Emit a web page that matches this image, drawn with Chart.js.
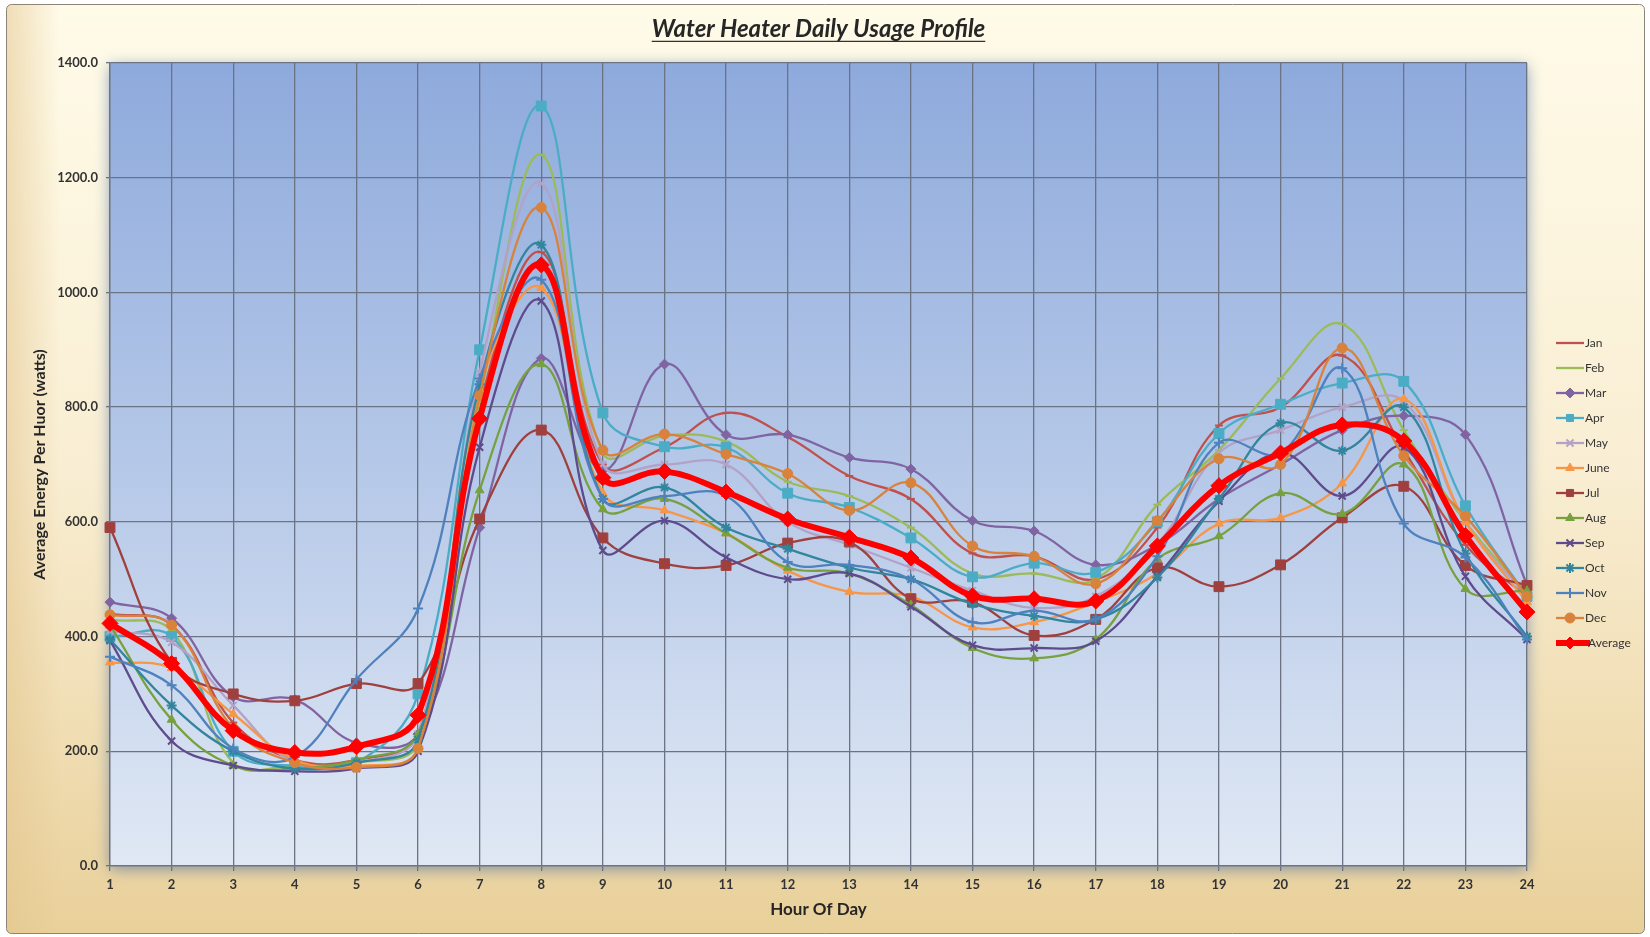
<!DOCTYPE html>
<html>
<head>
<meta charset="utf-8">
<title>Water Heater Daily Usage Profile</title>
<script src="https://cdn.jsdelivr.net/npm/chart.js@4.4.1/dist/chart.umd.min.js"></script>
<style>
  html, body { margin: 0; padding: 0; background: #ffffff; }
  #wrap { width: 1650px; height: 937px; }
</style>
</head>
<body>
<div id="wrap"><canvas id="usage" width="1650" height="937"></canvas></div>
<script>
// Hours of the day (x axis)
const hours = ['1', '2', '3', '4', '5', '6', '7', '8', '9', '10', '11', '12',
               '13', '14', '15', '16', '17', '18', '19', '20', '21', '22', '23', '24'];

// Average energy per hour (watts)
const jan  = [440, 420, 250, 185, 185, 230, 800, 1070, 700, 730, 790, 748, 680, 640, 545, 540, 500, 590, 768, 800, 890, 725, 560, 470];
const feb  = [430, 410, 180, 175, 180, 215, 810, 1240, 720, 750, 740, 670, 645, 590, 510, 510, 500, 630, 725, 850, 945, 760, 600, 475];
const mar  = [460, 432, 295, 290, 215, 230, 590, 885, 690, 875, 752, 752, 712, 692, 602, 584, 525, 560, 640, 700, 760, 785, 752, 490];
const apr  = [400, 400, 200, 175, 180, 300, 900, 1325, 790, 731, 730, 650, 625, 572, 504, 528, 512, 600, 754, 805, 842, 845, 628, 470];
const may  = [410, 390, 280, 180, 180, 230, 860, 1190, 700, 700, 700, 600, 560, 520, 480, 450, 470, 560, 720, 760, 800, 810, 600, 470];
const june = [355, 345, 265, 185, 175, 205, 830, 1008, 650, 620, 580, 515, 478, 470, 416, 425, 460, 510, 597, 607, 667, 814, 600, 460];
const jul  = [590, 355, 300, 288, 318, 318, 605, 760, 572, 527, 524, 563, 565, 466, 460, 402, 430, 520, 487, 525, 607, 662, 524, 489];
const aug  = [420, 255, 175, 170, 185, 230, 655, 875, 622, 640, 580, 520, 510, 455, 380, 362, 395, 535, 575, 650, 614, 700, 483, 480];
const sep  = [393, 218, 175, 165, 170, 200, 730, 985, 550, 602, 538, 500, 510, 452, 385, 380, 392, 505, 636, 720, 645, 730, 505, 395];
const oct  = [395, 280, 200, 170, 180, 220, 840, 1083, 640, 660, 590, 553, 520, 500, 457, 436, 430, 503, 640, 772, 724, 800, 545, 400];
const nov  = [365, 315, 205, 190, 325, 449, 850, 1022, 640, 645, 645, 530, 525, 500, 425, 445, 430, 540, 738, 720, 868, 597, 538, 395];
const dec  = [438, 420, 240, 180, 172, 205, 820, 1148, 725, 753, 718, 684, 620, 668, 558, 540, 492, 602, 710, 700, 903, 715, 610, 470];
const average = [423, 353, 236, 198, 208, 263, 780, 1048, 677, 688, 652, 605, 573, 537, 471, 466, 462, 558, 663, 720, 769, 741, 576, 443];

const seriesNames = ['Jan', 'Feb', 'Mar', 'Apr', 'May', 'June', 'Jul', 'Aug', 'Sep', 'Oct', 'Nov', 'Dec', 'Average'];
const seriesData  = [jan, feb, mar, apr, may, june, jul, aug, sep, oct, nov, dec, average];

// Line colour and marker for each series
const looks = [
    { color: '#c0504d', marker: 'line',      size: 4 },
    { color: '#9bbb59', marker: 'line',      size: 4 },
    { color: '#8064a2', marker: 'rectRot',   size: 5 },
    { color: '#4bacc6', marker: 'rect',      size: 7 },
    { color: '#b3a2c7', marker: 'crossRot',  size: 5 },
    { color: '#f79646', marker: 'triangle',  size: 5 },
    { color: '#a0403e', marker: 'rect',      size: 7 },
    { color: '#77a03f', marker: 'triangle',  size: 5 },
    { color: '#5f4b8b', marker: 'crossRot',  size: 5 },
    { color: '#31859c', marker: 'star',      size: 5 },
    { color: '#4f81bd', marker: 'cross',     size: 5 },
    { color: '#d9823b', marker: 'circle',    size: 5 },
    { color: '#ff0000', marker: 'rectRot',   size: 8 }
];

const datasets = seriesNames.map((name, i) => {
    const isAvg = name === 'Average';
    const m = looks[i].marker;
    return {
        label: name,
        data: seriesData[i],
        borderColor: looks[i].color,
        backgroundColor: looks[i].color,
        borderWidth: isAvg ? 6 : 2.3,
        pointStyle: m,
        pointRadius: looks[i].size,
        pointBorderWidth: (m === 'line' || m.startsWith('cross') || m === 'star') ? 2 : 1,
        tension: 0.4,
        order: isAvg ? 0 : 13 - i
    };
});

// Cream frame plus the blue plot area with a soft shadow
const backdrop = {
    id: 'backdrop',
    beforeDraw(chart) {
        const { ctx, chartArea: a, width, height } = chart;
        ctx.save();
        ctx.fillStyle = '#ffffff';
        ctx.fillRect(0, 0, width, height);
        const bg = ctx.createLinearGradient(0, 0, 0, height);
        bg.addColorStop(0, '#fffbe9');
        bg.addColorStop(0.5, '#f9eed3');
        bg.addColorStop(1, '#e9d09a');
        ctx.fillStyle = bg;
        ctx.beginPath();
        ctx.roundRect(6.5, 4.5, width - 12, height - 8, 5);
        ctx.fill();
        // a touch of tan along the left edge
        const side = ctx.createLinearGradient(6, 0, 60, 0);
        side.addColorStop(0, 'rgba(226, 196, 140, 0.55)');
        side.addColorStop(1, 'rgba(226, 196, 140, 0)');
        ctx.fillStyle = side;
        ctx.fill();
        ctx.strokeStyle = '#8c8478';
        ctx.lineWidth = 1;
        ctx.stroke();

        ctx.shadowColor = 'rgba(60, 100, 160, 0.6)';
        ctx.shadowBlur = 14;
        ctx.shadowOffsetY = 3;
        const pg = ctx.createLinearGradient(0, a.top, 0, a.bottom);
        pg.addColorStop(0, '#8eaadc');
        pg.addColorStop(0.5, '#b5c8e8');
        pg.addColorStop(1, '#e0e8f4');
        ctx.fillStyle = pg;
        ctx.fillRect(a.left, a.top, a.right - a.left, a.bottom - a.top);
        ctx.restore();
    }
};

// Underline under the chart title
const titleUnderline = {
    id: 'titleUnderline',
    afterDraw(chart) {
        const t = chart.titleBlock;
        const opts = chart.options.plugins.title;
        if (!t || !opts.display) return;
        const font = Chart.helpers.toFont(opts.font);
        const ctx = chart.ctx;
        ctx.save();
        ctx.font = font.string;
        const w = ctx.measureText(opts.text).width;
        const cx = (t.left + t.right) / 2;
        const y = t.top + opts.padding.top + font.lineHeight / 2 + 12;
        ctx.strokeStyle = '#333333';
        ctx.lineWidth = 1.4;
        ctx.beginPath();
        ctx.moveTo(cx - w / 2, y);
        ctx.lineTo(cx + w / 2, y);
        ctx.stroke();
        ctx.restore();
    }
};

// Legend on the right: line sample with marker, then the name
const sideLegend = {
    id: 'sideLegend',
    afterDraw(chart) {
        const ctx = chart.ctx;
        ctx.save();
        ctx.font = '12px Lato';
        ctx.textBaseline = 'middle';
        chart.data.datasets.forEach((ds, i) => {
            const y = 343 + i * 25;
            const isAvg = ds.label === 'Average';
            ctx.strokeStyle = ds.borderColor;
            ctx.fillStyle = ds.backgroundColor;
            ctx.lineWidth = isAvg ? 6 : 2.3;
            ctx.beginPath();
            ctx.moveTo(1556, y);
            ctx.lineTo(isAvg ? 1590 : 1584, y);
            ctx.stroke();
            if (ds.pointStyle !== 'line') {
                ctx.lineWidth = ds.pointBorderWidth;
                Chart.helpers.drawPoint(ctx, {
                    pointStyle: ds.pointStyle,
                    radius: isAvg ? 6 : Math.min(ds.pointRadius, 5),
                    rotation: 0,
                    borderWidth: ds.pointBorderWidth
                }, 1570, y);
            }
            ctx.fillStyle = '#333333';
            ctx.fillText(ds.label, isAvg ? 1588 : 1585, y);
        });
        ctx.restore();
    }
};

const tickFont = { family: 'Lato', size: 13, weight: 'bold' };

new Chart(document.getElementById('usage'), {
    type: 'line',
    data: { labels: hours, datasets: datasets },
    options: {
        responsive: false,
        animation: false,
        layout: { padding: { left: 0, right: 123, top: 0, bottom: 0 } },
        plugins: {
            legend: { display: false },
            tooltip: { enabled: false },
            title: {
                display: true,
                text: 'Water Heater Daily Usage Profile',
                fullSize: false,
                color: '#262626',
                font: { family: 'Lato', size: 24, weight: 'bold', style: 'italic' },
                padding: { top: 15, bottom: 19.2 }
            }
        },
        scales: {
            x: {
                offset: false,
                grid: { color: '#6b7384', lineWidth: 1.3, tickLength: 5, offset: false },
                border: { color: '#6b7384', width: 1.3 },
                ticks: { color: '#333333', font: tickFont, padding: 6, autoSkip: false, maxRotation: 0 },
                title: {
                    display: true,
                    text: 'Hour Of Day',
                    color: '#262626',
                    font: { family: 'Lato', size: 17, weight: 'bold' },
                    padding: { top: 0, bottom: 17 }
                },
                afterFit(scale) { scale.height = 71; }
            },
            y: {
                min: 0,
                max: 1400,
                grid: { color: '#6b7384', lineWidth: 1.3, tickLength: 4 },
                border: { color: '#6b7384', width: 1.3 },
                ticks: {
                    stepSize: 200,
                    color: '#333333',
                    font: tickFont,
                    padding: 8,
                    callback: (v) => Number(v).toFixed(1)
                },
                title: {
                    display: true,
                    text: 'Average Energy Per Huor (watts)',
                    color: '#262626',
                    font: { family: 'Lato', size: 16, weight: 'bold' },
                    padding: { top: 30, bottom: 0 }
                },
                afterFit(scale) { scale.width = 110; }
            }
        }
    },
    plugins: [backdrop, titleUnderline, sideLegend]
});
</script>
</body>
</html>
